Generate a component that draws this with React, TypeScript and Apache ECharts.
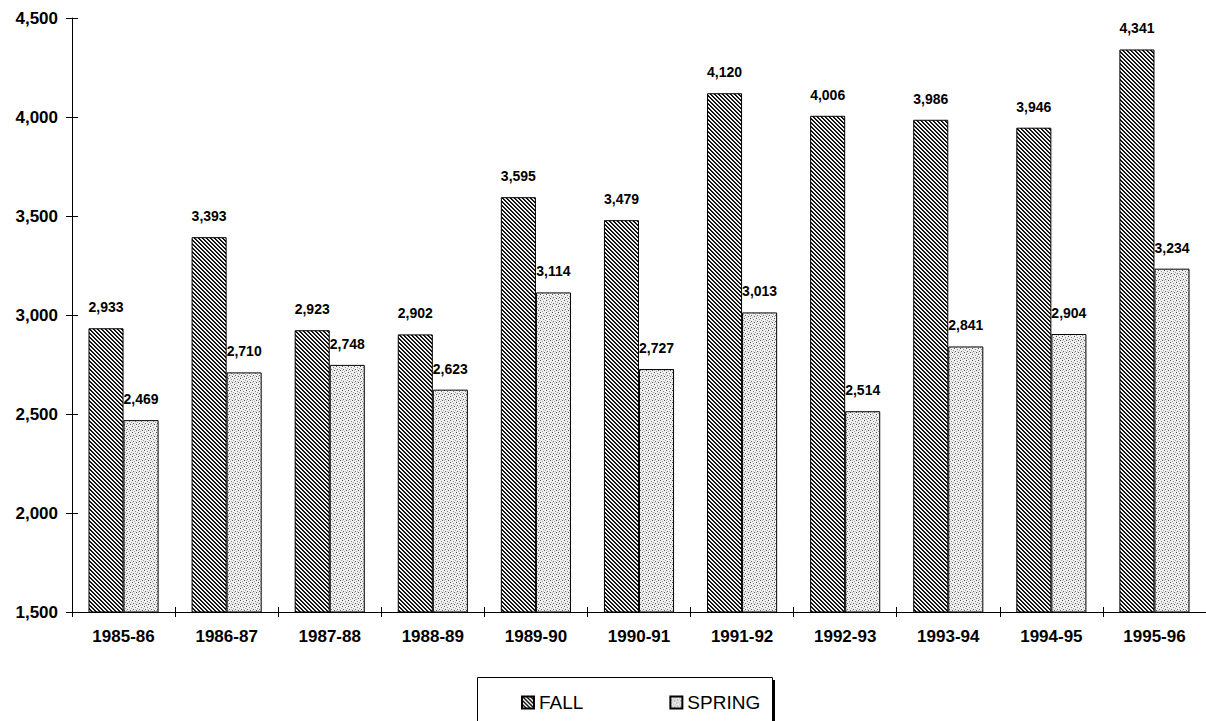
import React, { useEffect, useRef } from "react";
import * as echarts from "echarts";

const categories = ["1985-86", "1986-87", "1987-88", "1988-89", "1989-90", "1990-91", "1991-92", "1992-93", "1993-94", "1994-95", "1995-96"];
const fallValues = [2933, 3393, 2923, 2902, 3595, 3479, 4120, 4006, 3986, 3946, 4341];
const springValues = [2469, 2710, 2748, 2623, 3114, 2727, 3013, 2514, 2841, 2904, 3234];
const yMin = 1500;
const yMax = 4500;
const yInterval = 500;

const FONT = "'Liberation Sans', Arial, Helvetica, sans-serif";
const fmt = (v: number) => Number(v).toLocaleString("en-US");

function makeHatch(): HTMLCanvasElement {
  const n = 4;
  const shades = [0, 40, 255, 235];
  const c = document.createElement("canvas");
  c.width = n;
  c.height = n;
  const ctx = c.getContext("2d")!;
  const img = ctx.createImageData(n, n);
  for (let y = 0; y < n; y++) {
    for (let x = 0; x < n; x++) {
      const k = (((x - y) % n) + n) % n;
      const v = shades[k];
      const i = (y * n + x) * 4;
      img.data[i] = v;
      img.data[i + 1] = v;
      img.data[i + 2] = v;
      img.data[i + 3] = 255;
    }
  }
  ctx.putImageData(img, 0, 0);
  return c;
}

function makeStipple(): HTMLCanvasElement {
  const n = 6;
  const c = document.createElement("canvas");
  c.width = n;
  c.height = n;
  const ctx = c.getContext("2d")!;
  const img = ctx.createImageData(n, n);
  const dots: [number, number, number][] = [
    [0, 0, 80], [3, 1, 130], [1, 3, 100], [4, 4, 80], [2, 5, 160], [5, 2, 160], [0, 4, 190], [3, 3, 200],
  ];
  for (let i = 0; i < n * n * 4; i += 4) {
    img.data[i] = 240;
    img.data[i + 1] = 240;
    img.data[i + 2] = 240;
    img.data[i + 3] = 255;
  }
  for (const [x, y, v] of dots) {
    const i = (y * n + x) * 4;
    img.data[i] = v;
    img.data[i + 1] = v;
    img.data[i + 2] = v;
  }
  ctx.putImageData(img, 0, 0);
  return c;
}

export default function App() {
  const ref = useRef<HTMLDivElement>(null);
  useEffect(() => {
    if (!ref.current) return;
    const chart = echarts.init(ref.current, null, { renderer: "svg" });
    const hatch = { image: makeHatch(), repeat: "repeat" } as any;
    const stipple = { image: makeStipple(), repeat: "repeat" } as any;
    const gridRect = { left: 72, top: 18, right: 0, bottom: 109 };
    const labelStyle = {
      show: true,
      position: "top",
      distance: 14,
      fontSize: 14,
      fontWeight: "bold",
      color: "#000",
      fontFamily: FONT,
      formatter: (p: any) => fmt(p.value),
    };
    chart.setOption({
      animation: false,
      backgroundColor: "#fff",
      textStyle: { fontFamily: FONT },
      grid: [gridRect, gridRect],
      xAxis: [
        {
          type: "category",
          data: categories,
          gridIndex: 0,
          axisLine: { show: true, lineStyle: { color: "#000", width: 1 } },
          axisTick: { show: true, length: 5, lineStyle: { color: "#000" } },
          axisLabel: { fontSize: 17, fontWeight: "bold", color: "#000", margin: 16, fontFamily: FONT },
          splitLine: { show: false },
        },
        {
          type: "category",
          data: categories,
          gridIndex: 1,
          axisLine: { show: false },
          axisTick: { show: true, inside: true, length: 5, lineStyle: { color: "#000" } },
          axisLabel: { show: false },
          splitLine: { show: false },
        },
      ],
      yAxis: [
        {
          type: "value",
          gridIndex: 0,
          min: yMin,
          max: yMax,
          interval: yInterval,
          axisLine: { show: true, lineStyle: { color: "#000", width: 1 } },
          axisTick: { show: true, length: 6, lineStyle: { color: "#000" } },
          axisLabel: { fontSize: 17, fontWeight: "bold", color: "#000", margin: 14, fontFamily: FONT, formatter: (v: number) => fmt(v) },
          splitLine: { show: false },
        },
        {
          type: "value",
          gridIndex: 1,
          min: yMin,
          max: yMax,
          interval: yInterval,
          axisLine: { show: false },
          axisTick: { show: true, inside: true, length: 6, lineStyle: { color: "#000" } },
          axisLabel: { show: false },
          splitLine: { show: false },
        },
      ],
      legend: {
        data: ["FALL", "SPRING"],
        left: 516,
        top: 688,
        itemWidth: 12,
        itemHeight: 12,
        itemGap: 86,
        icon: "rect",
        textStyle: { fontSize: 19, color: "#000", fontFamily: FONT },
      },
      graphic: [
        {
          type: "rect",
          shape: { x: 477.5, y: 677.5, width: 295, height: 60 },
          style: { fill: "none", stroke: "#000", lineWidth: 1 },
          silent: true,
        },
        {
          type: "line",
          shape: { x1: 774, y1: 680, x2: 774, y2: 721 },
          style: { stroke: "#000", lineWidth: 2 },
          silent: true,
        },
      ],
      series: [
        {
          name: "FALL",
          type: "bar",
          xAxisIndex: 0,
          yAxisIndex: 0,
          data: fallValues,
          barGap: "0%",
          barCategoryGap: "32%",
          itemStyle: { color: hatch, borderColor: "#000", borderWidth: 1 },
          label: labelStyle,
        },
        {
          name: "SPRING",
          type: "bar",
          xAxisIndex: 0,
          yAxisIndex: 0,
          data: springValues,
          barGap: "0%",
          barCategoryGap: "32%",
          itemStyle: { color: stipple, borderColor: "#000", borderWidth: 1 },
          label: labelStyle,
        },
      ],
    });
    return () => chart.dispose();
  }, []);
  return (
    <div
      ref={ref}
      style={{ position: "fixed", left: 0, top: 0, width: 1206, height: 721, background: "#fff" }}
    />
  );
}
